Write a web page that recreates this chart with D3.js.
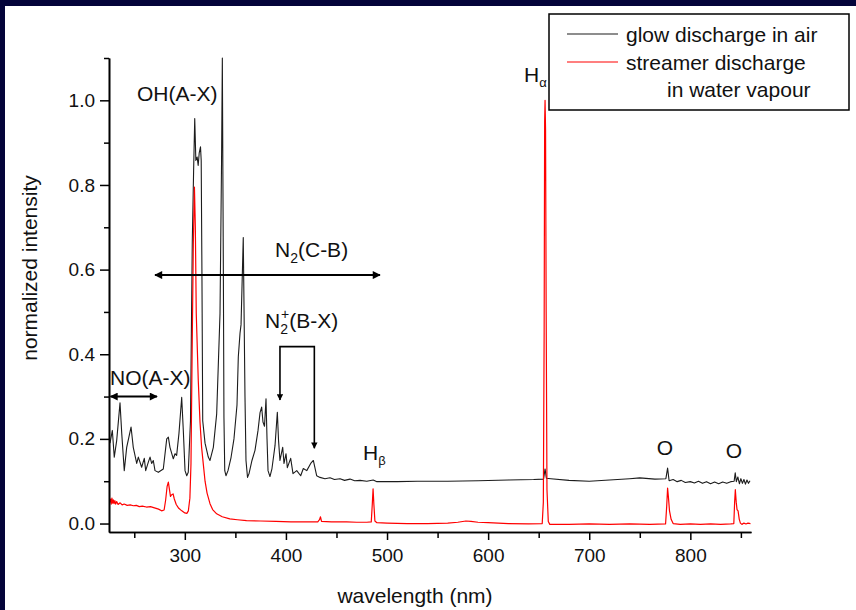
<!DOCTYPE html>
<html>
<head>
<meta charset="utf-8">
<script src="https://cdn.jsdelivr.net/npm/d3@7"></script>
<style>
  html, body { margin: 0; padding: 0; background: #04043a; }
  svg { display: block; }
  text { font-family: "Liberation Sans", Arial, sans-serif; fill: #111; }
</style>
</head>
<body>
<svg id="chart" width="856" height="610"></svg>
<script>
// Emission spectra, normalized intensity vs wavelength (nm)
const wavelengthDomain = [225, 860];
const intensityDomain = [-0.02, 1.1];

const xMajorTicks = [300, 400, 500, 600, 700, 800];
const xMinorTicks = [250, 350, 450, 550, 650, 750, 850];
const yMajorTicks = [0.0, 0.2, 0.4, 0.6, 0.8, 1.0];
const yMinorTicks = [0.1, 0.3, 0.5, 0.7, 0.9, 1.1];

const seriesLabels = ["glow discharge in air", "streamer discharge", "in water vapour"];
const seriesColors = ["#1c1c1c", "#ff0000"];

// glow discharge in air: [wavelength, intensity]
const glowAir = [
  [226.0,0.19],[228.3,0.22],[230.2,0.157],[232.6,0.196],[235.9,0.285],[237.6,0.213],
  [240.1,0.125],[242.5,0.180],[246.8,0.228],[249.0,0.180],[252.4,0.142],[254.0,0.157],
  [257.3,0.133],[259.9,0.154],[261.3,0.125],[263.9,0.145],[265.6,0.157],[267.2,0.142],
  [268.8,0.149],[270.5,0.125],[273.8,0.121],[278.7,0.129],[282.1,0.200],[283.7,0.204],
  [285.3,0.180],[288.6,0.153],[290.3,0.165],[291.9,0.161],[294.2,0.213],[296.9,0.298],
  [298.5,0.220],[300.2,0.125],[301.9,0.113],[303.4,0.121],[305.6,0.243],[307.4,0.67],
  [308.7,0.835],[309.8,0.957],[310.9,0.858],[312.2,0.866],[313.2,0.846],[314.2,0.875],
  [315.5,0.890],[316.2,0.858],[316.9,0.60],[317.7,0.243],[320.0,0.19],[323.2,0.157],
  [324.9,0.149],[328.2,0.180],[331.5,0.259],[334.8,0.496],[336.3,0.85],[337.1,1.1],
  [338.1,0.60],[338.7,0.25],[339.5,0.125],[340.7,0.113],[342.7,0.125],[345.7,0.156],
  [348.6,0.20],[351.6,0.28],[352.9,0.394],[354.6,0.45],[355.6,0.47],[357.8,0.676],
  [359.5,0.30],[360.5,0.149],[362.0,0.109],[363.5,0.118],[366.4,0.149],[369.4,0.173],
  [372.4,0.220],[374.4,0.262],[376.0,0.275],[377.3,0.240],[378.8,0.230],[380.3,0.295],
  [381.3,0.200],[382.3,0.125],[384.2,0.111],[386.2,0.130],[389.2,0.184],[391.5,0.263],
  [392.7,0.196],[394.1,0.149],[396.8,0.180],[398.1,0.142],[400.1,0.165],[401.4,0.132],
  [404.7,0.154],[407.0,0.118],[410.7,0.125],[414.6,0.113],[417.2,0.130],[420.6,0.125],
  [424.5,0.142],[427.1,0.149],[430.4,0.113],[433.7,0.109],[438.6,0.106],[443.6,0.108],
  [448.0,0.104],[453.5,0.106],[458.0,0.102],[463.4,0.105],[468.0,0.101],[473.3,0.102],
  [480.0,0.100],[486.3,0.103],[490.0,0.099],[510.0,0.099],[530.0,0.100],[560.0,0.100],
  [590.0,0.101],[620.0,0.103],[645.0,0.104],[654.8,0.105],[656.3,0.129],[657.6,0.107],
  [662.0,0.106],[680.0,0.102],[700.0,0.100],[720.0,0.103],[740.0,0.106],[750.0,0.108],
  [765.0,0.105],[775.8,0.106],[777.5,0.131],[779.0,0.101],[783.0,0.104],[787.0,0.099],
  [791.0,0.102],[795.0,0.097],[800.0,0.099],[804.0,0.096],[808.0,0.100],[812.0,0.095],
  [816.0,0.099],[820.0,0.094],[824.0,0.098],[828.0,0.094],[832.0,0.098],[836.0,0.095],
  [840.0,0.099],[843.3,0.100],[844.4,0.120],[845.5,0.099],[847.0,0.110],[848.5,0.094],
  [850.0,0.106],[851.5,0.095],[853.0,0.104],[854.5,0.093],[856.0,0.103],[857.5,0.095],
  [859.0,0.101]
];

// streamer discharge in water vapour: [wavelength, intensity]
const streamerVapour = [
  [226.0,0.050],[226.6,0.058],[227.2,0.046],[227.9,0.060],[228.6,0.048],[229.3,0.056],
  [230.0,0.047],[230.8,0.054],[231.6,0.046],[232.6,0.052],[234.0,0.045],[236.0,0.049],
  [238.0,0.044],[240.0,0.046],[243.0,0.043],[246.0,0.044],[249.0,0.042],[252.0,0.043],
  [255.0,0.040],[258.0,0.041],[262.0,0.039],[266.0,0.040],[270.0,0.037],[274.0,0.034],
  [277.0,0.030],[279.5,0.032],[281.0,0.055],[282.5,0.088],[283.7,0.098],[284.8,0.080],
  [285.8,0.064],[287.0,0.068],[288.4,0.070],[289.6,0.058],[291.5,0.045],[294.0,0.036],
  [297.0,0.030],[300.0,0.025],[302.0,0.024],[303.5,0.030],[305.0,0.060],[306.1,0.142],
  [307.2,0.40],[308.4,0.66],[309.5,0.795],[310.4,0.70],[311.3,0.497],[313.3,0.338],
  [315.0,0.24],[316.6,0.18],[318.5,0.135],[320.0,0.10],[322.0,0.072],[324.9,0.047],
  [327.5,0.033],[331.5,0.023],[337.0,0.016],[344.5,0.011],[352.0,0.009],[361.0,0.007],
  [375.0,0.006],[390.0,0.005],[405.0,0.004],[420.0,0.004],[431.5,0.004],[433.2,0.009],
  [434.2,0.016],[435.2,0.005],[445.0,0.004],[460.0,0.004],[470.0,0.003],[480.0,0.003],
  [484.4,0.004],[485.4,0.045],[486.2,0.082],[487.0,0.045],[488.0,0.006],[490.0,0.002],
  [500.0,0.001],[520.0,0.000],[540.0,0.000],[560.0,0.001],[570.0,0.003],[578.0,0.006],
  [583.0,0.005],[590.0,0.003],[600.0,0.002],[620.0,0.000],[640.0,-0.001],[653.5,0.000],
  [654.6,0.05],[655.4,0.45],[655.9,0.95],[656.3,1.0],[656.8,0.93],[657.4,0.5],
  [658.2,0.08],[659.5,0.005],[661.0,-0.002],[680.0,-0.002],[700.0,-0.001],[720.0,-0.002],
  [740.0,-0.001],[760.0,-0.002],[775.5,-0.001],[776.6,0.04],[777.5,0.084],[778.4,0.06],
  [779.4,0.03],[781.0,0.010],[783.0,0.000],[790.0,-0.002],[800.0,-0.001],[810.0,-0.002],
  [820.0,-0.001],[830.0,-0.002],[840.0,-0.001],[843.0,0.000],[843.8,0.05],[844.5,0.080],
  [845.4,0.05],[846.2,0.033],[847.2,0.030],[848.4,0.010],[849.5,0.001],[851.0,-0.002],
  [853.0,0.001],[855.0,-0.001],[857.0,0.001],[859.5,0.000]
];

const svg = d3.select("#chart");

// slide frame and white panel
svg.append("rect").attr("x", 0).attr("y", 0).attr("width", 856).attr("height", 610).attr("fill", "#04043a");
svg.append("rect").attr("x", 5).attr("y", 6).attr("width", 851).attr("height", 604).attr("fill", "#ffffff");

const x = d3.scaleLinear().domain(wavelengthDomain).range([109, 751]);
const y = d3.scaleLinear().domain(intensityDomain).range([532, 58]);

// arrowhead marker
const defs = svg.append("defs");
defs.append("marker")
  .attr("id", "head")
  .attr("viewBox", "0 0 10 10")
  .attr("refX", 9).attr("refY", 5)
  .attr("markerWidth", 5).attr("markerHeight", 4)
  .attr("markerUnits", "strokeWidth")
  .attr("orient", "auto-start-reverse")
  .append("path").attr("d", "M0,0 L10,5 L0,10 z").attr("fill", "#000");
defs.append("clipPath").attr("id", "plot-clip")
  .append("rect").attr("x", 109).attr("y", 57).attr("width", 643).attr("height", 476);

// spectra
const line = d3.line().x(d => x(d[0])).y(d => y(d[1]));
const plot = svg.append("g").attr("clip-path", "url(#plot-clip)");
plot.append("path").datum(glowAir)
  .attr("d", line).attr("fill", "none")
  .attr("stroke", seriesColors[0]).attr("stroke-width", 1.1).attr("stroke-linejoin", "round");
plot.append("path").datum(streamerVapour)
  .attr("d", line).attr("fill", "none")
  .attr("stroke", seriesColors[1]).attr("stroke-width", 1.2).attr("stroke-linejoin", "round");

// axes
const axisStyle = g => {
  g.selectAll(".domain").attr("stroke", "#000").attr("stroke-width", 1.6);
  g.selectAll(".tick line").attr("stroke", "#000").attr("stroke-width", 1.5);
  g.selectAll(".tick text").attr("font-size", 19).attr("fill", "#1a1a1a")
    .attr("font-family", "'Liberation Sans', Arial, sans-serif");
};
svg.append("g").attr("transform", "translate(0,532)")
  .call(d3.axisBottom(x).tickValues(xMinorTicks).tickSize(6).tickSizeOuter(0).tickFormat(""))
  .call(axisStyle);
svg.append("g").attr("transform", "translate(0,532)")
  .call(d3.axisBottom(x).tickValues(xMajorTicks).tickSize(8).tickPadding(9).tickSizeOuter(0).tickFormat(d3.format("d")))
  .call(axisStyle);
svg.append("g").attr("transform", "translate(109,0)")
  .call(d3.axisLeft(y).tickValues(yMinorTicks).tickSize(5).tickSizeOuter(0).tickFormat(""))
  .call(axisStyle);
svg.append("g").attr("transform", "translate(109,0)")
  .call(d3.axisLeft(y).tickValues(yMajorTicks).tickSize(9).tickPadding(5).tickSizeOuter(0).tickFormat(d3.format(".1f")))
  .call(axisStyle);

// axis titles
svg.append("text").attr("x", 415).attr("y", 603).attr("text-anchor", "middle")
  .attr("font-size", 21).text("wavelength (nm)");
svg.append("text").attr("transform", "translate(37,268) rotate(-90)").attr("text-anchor", "middle")
  .attr("font-size", 21).text("normalized intensity");

// band annotations
const ann = svg.append("g").attr("font-size", 21);
ann.append("text").attr("x", x(252.7)).attr("y", y(0.998)).text("OH(A-X)");
ann.append("text").attr("x", x(226)).attr("y", y(0.327)).text("NO(A-X)");

const n2 = ann.append("text").attr("x", x(389.2)).attr("y", y(0.630));
n2.append("tspan").text("N");
n2.append("tspan").attr("font-size", 14).attr("dy", 6).text("2");
n2.append("tspan").attr("dy", -6).text("(C-B)");

const n2p = ann.append("text").attr("x", x(379.3)).attr("y", y(0.462));
n2p.append("tspan").text("N");
n2p.append("tspan").attr("font-size", 14).attr("dy", 6).text("2");
n2p.append("tspan").attr("font-size", 14).attr("dx", -7).attr("dy", -15).text("+");
n2p.append("tspan").attr("dy", 9).text("(B-X)");

const hb = ann.append("text").attr("x", x(476.2)).attr("y", y(0.150));
hb.append("tspan").text("H");
hb.append("tspan").attr("font-size", 13).attr("dy", 5).text("β");
const ha = ann.append("text").attr("x", x(635.5)).attr("y", y(1.043));
ha.append("tspan").text("H");
ha.append("tspan").attr("font-size", 13).attr("dy", 5).text("α");

ann.append("text").attr("x", x(774.9)).attr("y", y(0.162)).attr("text-anchor", "middle").text("O");
ann.append("text").attr("x", x(843.2)).attr("y", y(0.155)).attr("text-anchor", "middle").text("O");

// arrows: band extents and N2+ bracket
const arrows = svg.append("g").attr("stroke", "#000").attr("fill", "none");
arrows.append("line")
  .attr("x1", x(270.5)).attr("x2", x(493)).attr("y1", y(0.587)).attr("y2", y(0.587))
  .attr("stroke-width", 2).attr("marker-start", "url(#head)").attr("marker-end", "url(#head)");
arrows.append("line")
  .attr("x1", x(226.5)).attr("x2", x(272.5)).attr("y1", y(0.300)).attr("y2", y(0.300))
  .attr("stroke-width", 2).attr("marker-start", "url(#head)").attr("marker-end", "url(#head)");
arrows.append("path")
  .attr("d", `M${x(394.1)},${y(0.292)} L${x(394.1)},${y(0.418)} L${x(428.1)},${y(0.418)} L${x(428.1)},${y(0.178)}`)
  .attr("stroke-width", 1.6).attr("marker-start", "url(#head)").attr("marker-end", "url(#head)");

// legend
const legend = svg.append("g");
legend.append("rect").attr("x", 549).attr("y", 14).attr("width", 300).attr("height", 96)
  .attr("fill", "#fff").attr("stroke", "#000").attr("stroke-width", 1.5);
legend.append("line").attr("x1", 567).attr("x2", 618).attr("y1", 34).attr("y2", 34)
  .attr("stroke", seriesColors[0]).attr("stroke-width", 1.1);
legend.append("line").attr("x1", 567).attr("x2", 618).attr("y1", 62).attr("y2", 62)
  .attr("stroke", seriesColors[1]).attr("stroke-width", 1.1);
legend.append("text").attr("x", 626).attr("y", 42).attr("font-size", 21).text(seriesLabels[0]);
legend.append("text").attr("x", 626).attr("y", 70).attr("font-size", 21).text(seriesLabels[1]);
legend.append("text").attr("x", 667).attr("y", 97).attr("font-size", 21).text(seriesLabels[2]);
</script>
</body>
</html>
